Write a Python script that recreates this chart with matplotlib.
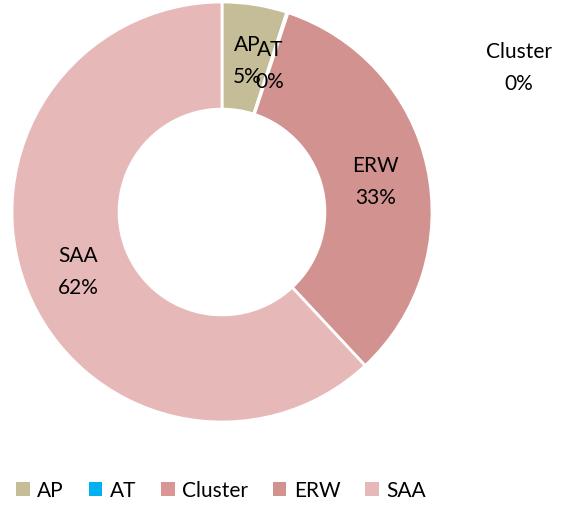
import matplotlib.pyplot as plt
from matplotlib.patches import Patch

categories = ["AP", "AT", "Cluster", "ERW", "SAA"]
values = [5.0, 0.1, 0.0, 33.0, 62.0]
labels_pct = ["5%", "0%", "0%", "33%", "62%"]
colors = ["#c4bd97", "#00b0f0", "#d99694", "#d29390", "#e6b9b8"]
label_pos = [(0.119, 0.724), (0.229, 0.70), (1.414, 0.690), (0.733, 0.148), (-0.686, -0.281)]

plt.rcParams['font.family'] = ['Lato', 'DejaVu Sans']

fig = plt.figure(figsize=(5.69, 5.06), dpi=100)
ax = fig.add_axes([12/569, 83/506, 420/569, 420/506])
ax.pie(values, colors=colors, startangle=90, counterclock=False, radius=1.0,
       wedgeprops=dict(width=0.51, edgecolor='white', linewidth=2))
ax.set_xlim(-1, 1)
ax.set_ylim(-1, 1)
ax.set_aspect('equal')
ax.axis('off')

for cat, pct, (x, y) in zip(categories, labels_pct, label_pos):
    ax.text(x, y, f"{cat}\n{pct}", ha='center', va='center', fontsize=15,
            color='black', linespacing=1.75, clip_on=False)

handles = [Patch(facecolor=c, edgecolor='none') for c in colors]
fig.legend(handles, categories, loc='center', bbox_to_anchor=(221/569, 1 - 491/506),
           ncol=5, frameon=False, fontsize=15, handlelength=0.65, handleheight=0.65,
           handletextpad=0.35, columnspacing=1.2)

fig.savefig("out.png", dpi=100)
